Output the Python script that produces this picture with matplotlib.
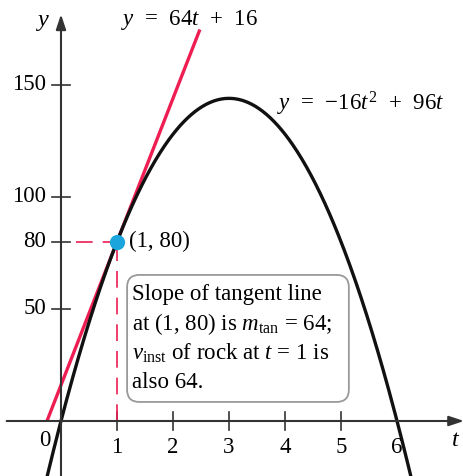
import numpy as np
import matplotlib
matplotlib.use("Agg")
import matplotlib.pyplot as plt
from matplotlib.patches import FancyBboxPatch

# Rock height y = -16t^2 + 96t and its tangent line at t = 1
a, b = -16, 96
tan_slope, tan_intercept = 64, 16
point = (1, 80)

x_ticks = [1, 2, 3, 4, 5, 6]
y_ticks = [50, 80, 100, 150]

t_curve = np.linspace(-0.3, 6.3, 400)
y_curve = a * t_curve**2 + b * t_curve
t_line = np.array([-0.25, 2.48])
y_line = tan_slope * t_line + tan_intercept

plt.rcParams['font.family'] = ['Liberation Serif', 'DejaVu Serif']
plt.rcParams['mathtext.fontset'] = 'custom'
plt.rcParams['mathtext.rm'] = 'Liberation Serif'
plt.rcParams['mathtext.it'] = 'Liberation Serif:italic'

fig = plt.figure(figsize=(4.64, 4.76), dpi=100)
ax = fig.add_axes([0, 0, 1, 1])
ax.set_xlim(-1.089, 7.196)
ax.set_ylim(-24.55, 187.9)
ax.axis('off')

RED = '#ee1d52'
BLUE = '#1aa6dd'
AXC = '#333333'
fs = 16.5
SP = '\u2002'

# axes with arrows
ax.annotate('', xy=(7.196, 0), xytext=(-0.97, 0),
            arrowprops=dict(arrowstyle='-|>,head_length=0.9,head_width=0.3',
                            color=AXC, lw=1.5, shrinkA=0, shrinkB=0))
ax.annotate('', xy=(0, 181.5), xytext=(0, -24.55),
            arrowprops=dict(arrowstyle='-|>,head_length=0.9,head_width=0.3',
                            color=AXC, lw=1.5, shrinkA=0, shrinkB=0))

# tick marks (drawn across the axes)
dx = 9 / 56
dy = 9 / 2.24
for t in x_ticks[:-1]:
    ax.plot([t, t], [-dy, dy], color=AXC, lw=1.2)
for v in y_ticks:
    ax.plot([-dx, dx], [v, v], color=AXC, lw=1.2)

# tick labels
for t in x_ticks:
    ax.text(t, -12.0, str(t), ha='center', va='center', fontsize=fs)
ax.text(-0.29, -8.5, '0', ha='center', va='center', fontsize=fs)
for v in y_ticks:
    ax.text(-0.27, v, str(v), ha='right', va='center', fontsize=fs)
ax.text(7.05, -8.5, '$t$', ha='center', va='center', fontsize=fs + 1)
ax.text(-0.34, 178, '$y$', ha='center', va='center', fontsize=fs + 1)

# dashed guides to the point
ax.plot([0.27, point[0]], [point[1], point[1]], color=RED, lw=1.2,
        dashes=(10, 6))
ax.plot([point[0], point[0]], [0, point[1]], color=RED, lw=1.2,
        dashes=(10, 6))

# curves
ax.plot(t_line, y_line, color=RED, lw=2.4, solid_capstyle='butt')
ax.plot(t_curve, y_curve, color='#111111', lw=2.4)
ax.plot(*point, 'o', color=BLUE, ms=11, mec='none', zorder=5)

ax.text(1.22, 80, '(1, 80)', ha='left', va='center', fontsize=fs)
ax.text(1.08, 179, f'$y${SP}={SP}64$t${SP}+{SP}16', ha='left', va='center',
        fontsize=fs)
ax.text(3.86, 141.5, f'$y${SP}={SP}$-$16$t^2${SP}+{SP}96$t$', ha='left',
        va='center', fontsize=fs)

# annotation box
box = FancyBboxPatch((1.18, 8.5), 3.96, 56.7,
                     boxstyle='round,pad=0,rounding_size=0.22',
                     mutation_aspect=25,
                     fc='white', ec='#999999', lw=1.3, zorder=4)
ax.add_patch(box)
lines = [
    'Slope of tangent line',
    'at (1, 80) is $m_{\\mathrm{tan}}$ = 64;',
    '$v_{\\mathrm{inst}}$ of rock at $t$ = 1 is',
    'also 64.',
]
for i, s in enumerate(lines):
    ax.text(1.26, 56.3 - i * 13.0, s, ha='left', va='center', fontsize=fs,
            zorder=6)

fig.savefig('out.png', dpi=100)
